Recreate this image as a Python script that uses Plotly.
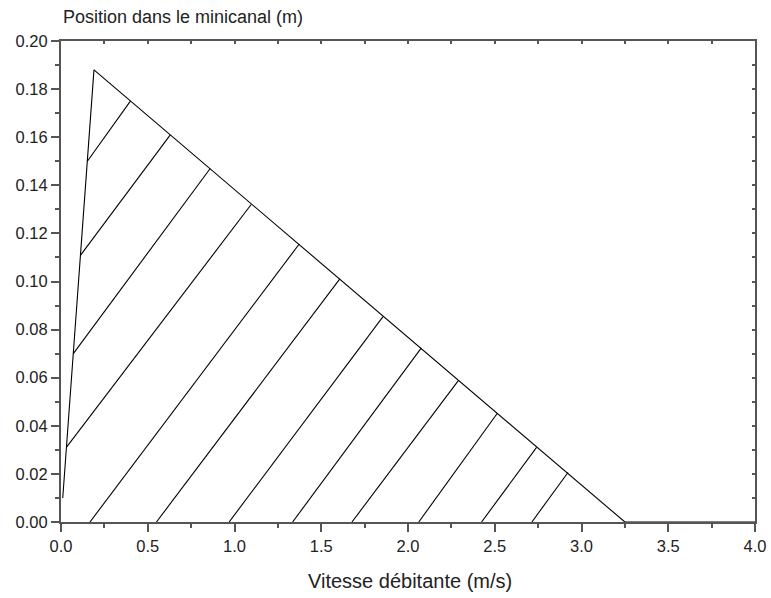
import plotly.graph_objects as go

# Outer boundary of the profile
boundary_x = [0.01, 0.19, 3.25, 4.0]
boundary_y = [0.01, 0.188, 0.0, 0.0]

# Hatching segments (start -> end)
hatch_start_x = [0.152, 0.113, 0.071, 0.031, 0.167, 0.55, 0.969, 1.335, 1.677, 2.062, 2.424, 2.714]
hatch_start_y = [0.150, 0.111, 0.070, 0.031, 0.0, 0.0, 0.0, 0.0, 0.0, 0.0, 0.0, 0.0]
hatch_end_x = [0.40, 0.63, 0.86, 1.096, 1.373, 1.606, 1.856, 2.077, 2.29, 2.514, 2.741, 2.922]
hatch_end_y = [0.175, 0.161, 0.147, 0.132, 0.1156, 0.101, 0.0854, 0.0724, 0.0588, 0.0451, 0.031, 0.0206]

x_ticks = [0.0, 0.5, 1.0, 1.5, 2.0, 2.5, 3.0, 3.5, 4.0]
x_tick_labels = ["0.0", "0.5", "1.0", "1.5", "2.0", "2.5", "3.0", "3.5", "4.0"]
y_ticks = [0.00, 0.02, 0.04, 0.06, 0.08, 0.10, 0.12, 0.14, 0.16, 0.18, 0.20]
y_tick_labels = ["0.00", "0.02", "0.04", "0.06", "0.08", "0.10", "0.12", "0.14", "0.16", "0.18", "0.20"]

x_title = "Vitesse débitante (m/s)"
y_title = "Position dans le minicanal (m)"

hx, hy = [], []
for x0, y0, x1, y1 in zip(hatch_start_x, hatch_start_y, hatch_end_x, hatch_end_y):
    hx += [x0, x1, None]
    hy += [y0, y1, None]

line_style = dict(color="black", width=1.1)
fig = go.Figure()
fig.add_trace(go.Scatter(x=boundary_x, y=boundary_y, mode="lines", line=line_style,
                         showlegend=False, hoverinfo="skip", cliponaxis=False))
fig.add_trace(go.Scatter(x=hx, y=hy, mode="lines", line=line_style,
                         showlegend=False, hoverinfo="skip", cliponaxis=False))
# dummy trace for secondary axes
fig.add_trace(go.Scatter(x=[None], y=[None], xaxis="x2", yaxis="y2", showlegend=False))

axis_col = "#555555"
text_col = "#222222"
font_family = "Liberation Sans, Arial, sans-serif"

fig.update_layout(
    autosize=False,
    width=771, height=598,
    margin=dict(l=61, r=16, t=41, b=76, autoexpand=False),
    plot_bgcolor="white", paper_bgcolor="white",
    font=dict(family=font_family, size=16, color=text_col),
    xaxis=dict(range=[0, 4.0], tickvals=x_ticks, ticktext=x_tick_labels, automargin=False,
               showgrid=False, zeroline=False, showline=True, linecolor=axis_col, linewidth=2,
               ticks="outside", ticklen=8, tickwidth=1.5, tickcolor=axis_col,
               ticklabeloverflow="allow",
               minor=dict(dtick=0.25, ticks="outside", ticklen=4, tickwidth=1.5, tickcolor=axis_col),
               tickfont=dict(size=16.5)),
    yaxis=dict(range=[0, 0.20], tickvals=y_ticks, ticktext=y_tick_labels, automargin=False,
               showgrid=False, zeroline=False, showline=True, linecolor=axis_col, linewidth=2,
               ticks="outside", ticklen=8, tickwidth=1.5, tickcolor=axis_col,
               ticklabeloverflow="allow",
               minor=dict(dtick=0.01, ticks="outside", ticklen=4, tickwidth=1.5, tickcolor=axis_col),
               tickfont=dict(size=16.5)),
    xaxis2=dict(range=[0, 4.0], overlaying="x", side="top", anchor="y", showticklabels=False,
                showgrid=False, zeroline=False, showline=True, linecolor=axis_col, linewidth=2,
                ticks="inside", ticklen=3, tickwidth=1.5, tickcolor=axis_col, dtick=0.25, tick0=0),
    yaxis2=dict(range=[0, 0.20], overlaying="y", side="right", anchor="x", showticklabels=False,
                showgrid=False, zeroline=False, showline=True, linecolor=axis_col, linewidth=2,
                ticks="inside", ticklen=3, tickwidth=1.5, tickcolor=axis_col, dtick=0.01, tick0=0),
    annotations=[
        dict(text=y_title, xref="paper", yref="paper", x=0, y=1, xanchor="left",
             yanchor="middle", yshift=24, showarrow=False,
             font=dict(family=font_family, size=18, color=text_col)),
        dict(text=x_title, xref="paper", yref="paper", x=0.5, y=0, xanchor="center",
             yanchor="middle", yshift=-59, xshift=2, showarrow=False,
             font=dict(family=font_family, size=20, color=text_col)),
    ],
)

fig.write_html("out.html", config={"displayModeBar": False},
               post_script="document.body.style.margin='0';")
